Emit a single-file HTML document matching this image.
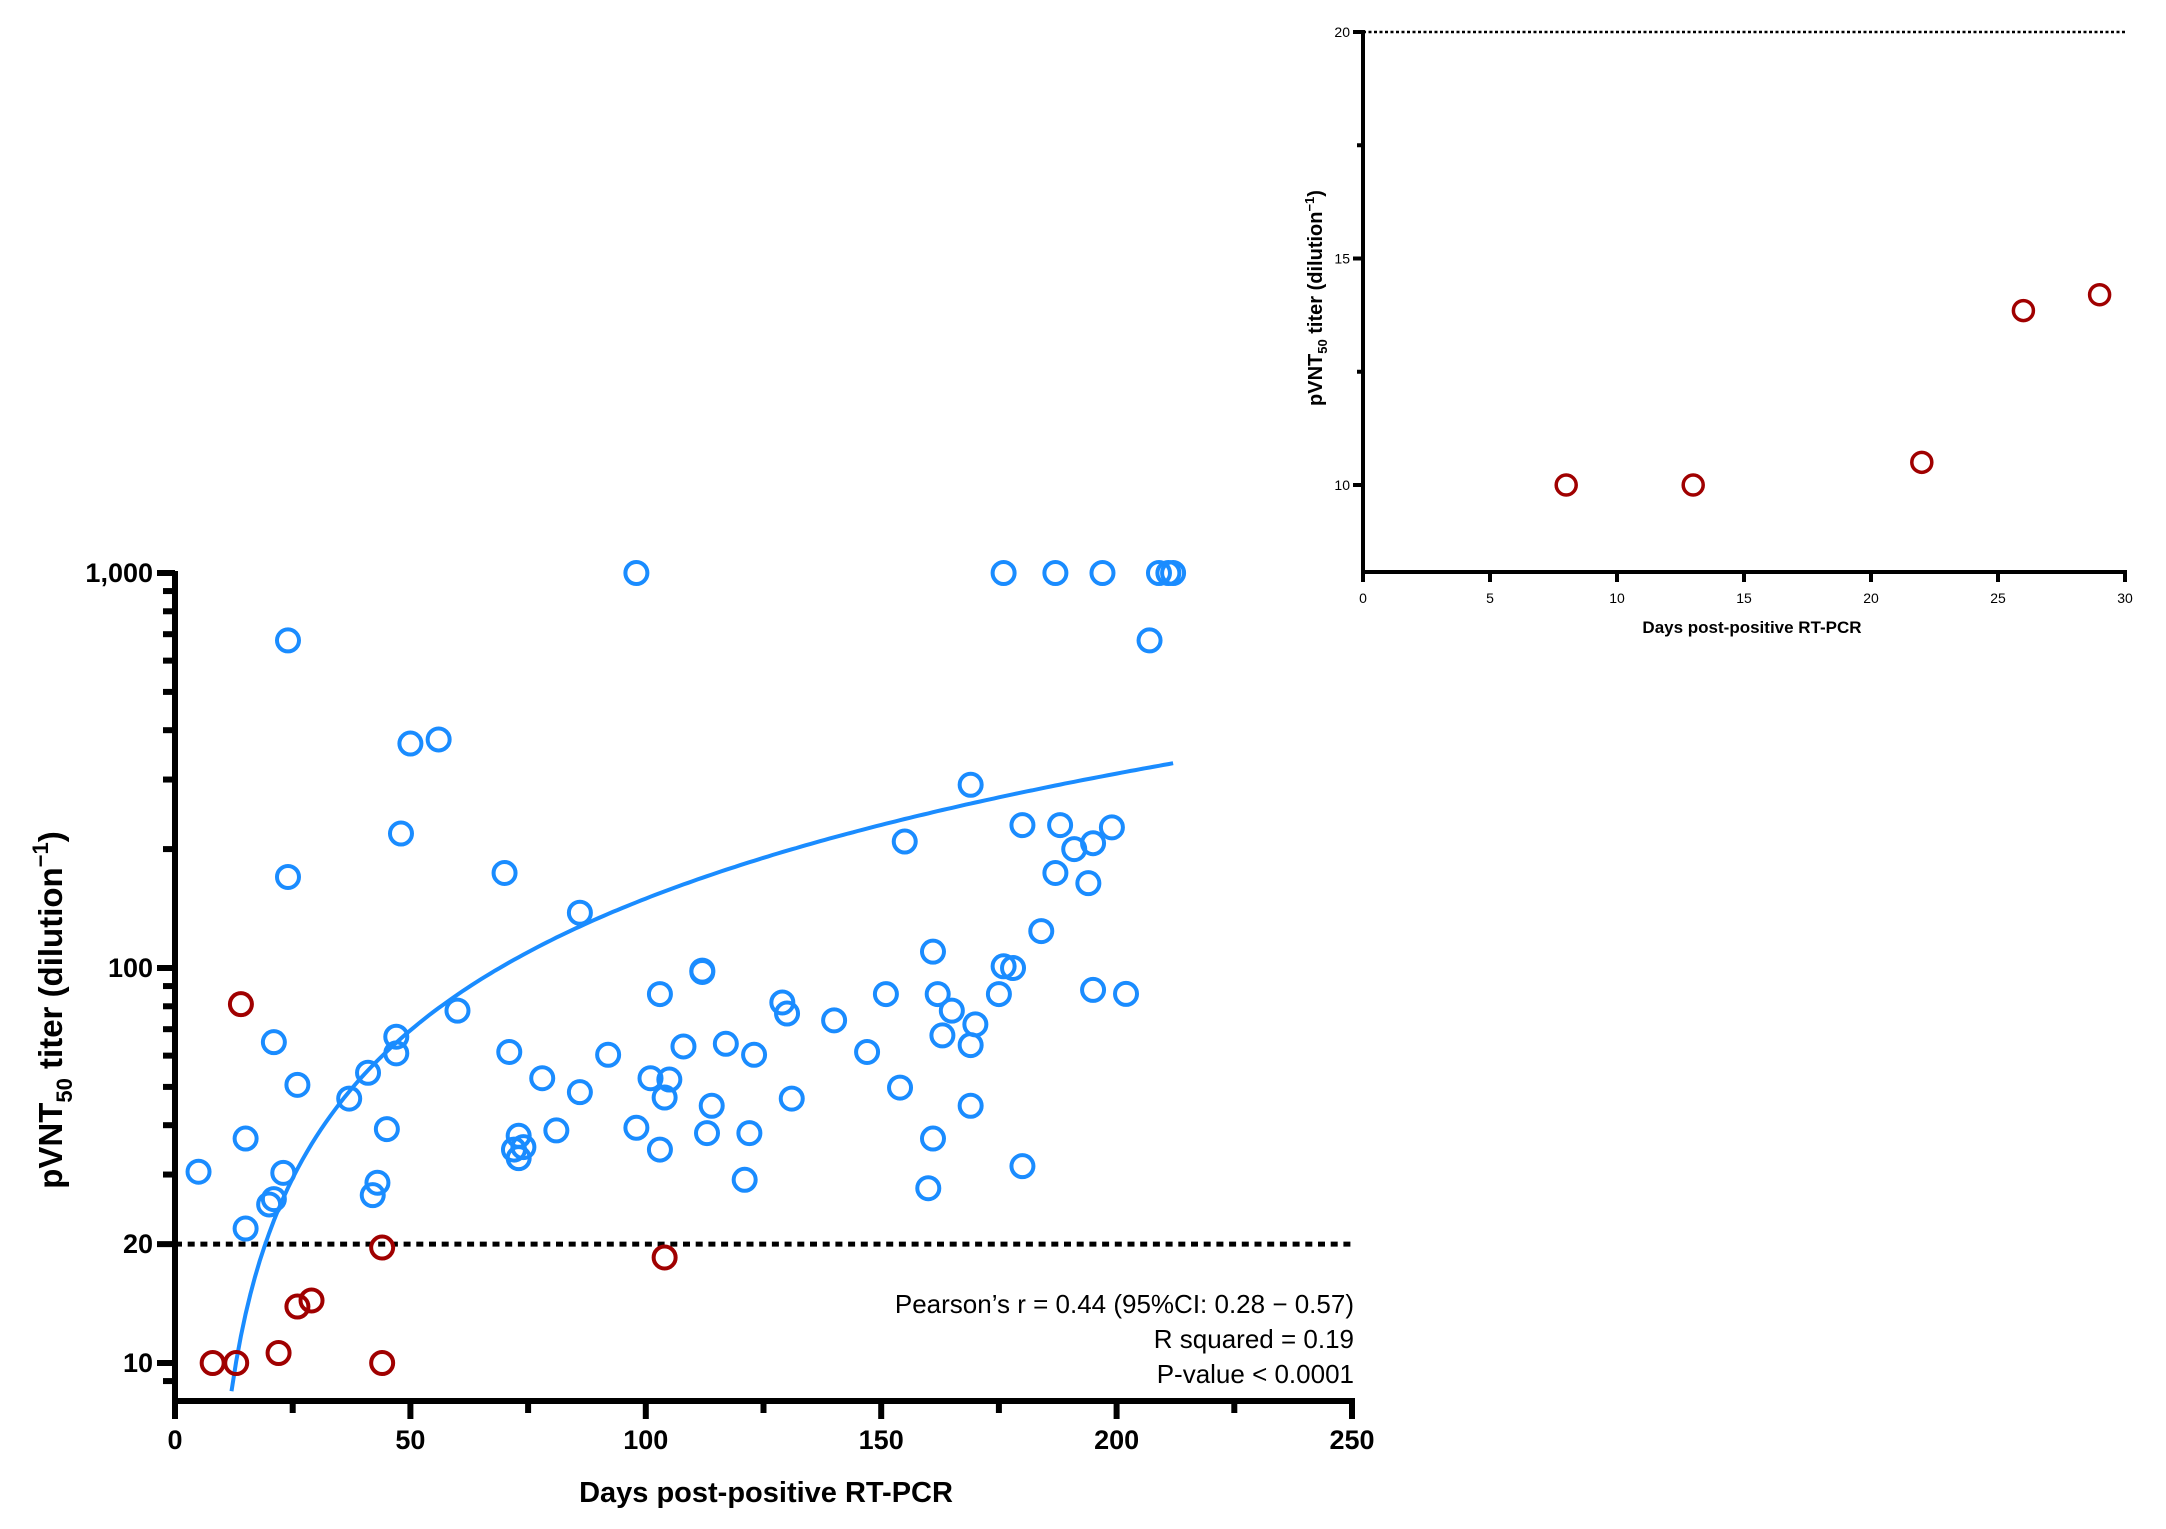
<!DOCTYPE html>
<html><head><meta charset="utf-8">
<style>
html,body{margin:0;padding:0;background:#fff;}
svg{display:block;font-family:"Liberation Sans",Arial,sans-serif;}
</style></head>
<body>
<svg id="chart" width="2166" height="1529" viewBox="0 0 2166 1529" xmlns="http://www.w3.org/2000/svg">
<g id="main"></g>
<g id="inset"></g>
</svg>
<script>
// ===== Main chart data =====
const blueDays = [5,15,15,20,21,21,23,24,24,26,37,41,42,43,45,47,47,48,50,56,60,70,71,72,73,73,74,78,81,86,86,92,98,98,101,103,103,104,105,108,112,112,113,114,117,121,122,123,129,130,131,140,147,151,154,155,160,161,161,162,163,165,169,169,169,170,175,176,176,178,180,180,184,187,187,188,191,194,195,195,197,199,202,207,209,211,212];
const blueTiters = [30.5,37,21.9,25.2,26,64.9,30.3,675,170,50.6,46.7,54.3,26.6,28.6,39.1,60.8,67,219,370,379,78,174,61.3,34.7,37.6,33,35.2,52.6,38.8,48.5,138,60.3,39.4,1000,52.6,85.9,34.7,47,52.2,63.3,97.7,98.5,38.2,44.8,64.3,29.1,38.2,60.3,81.8,76.7,46.7,73.7,61.3,85.9,49.8,209,27.7,37,110,85.9,67.5,78,291,63.8,44.8,72,85.9,101,1000,100,31.5,230,124,1000,174,230,200,164,88,207,1000,227,86,675,1000,1000,1000];
const redDays = [8,13,14,22,26,29,44,44,104];
const redTiters = [10,10,81,10.6,13.9,14.4,19.6,10,18.5];
const fitSlope = 1.607, fitIntercept = -10.8, fitStart = 12, fitEnd = 212;
const xTicks = [0,50,100,150,200,250];
const xMinorTicks = [25,75,125,175,225];
const yTickVals = [10,20,100,1000];
const yTickLabels = ["10","20","100","1,000"];
const yMinorTicks = [9,30,40,50,60,70,80,90,200,300,400,500,600,700,800,900];
const threshold = 20;
const statLines = ["Pearson\u2019s r = 0.44 (95%CI:  0.28 \u2212 0.57)","R squared = 0.19","P-value < 0.0001"];
// ===== Inset data =====
const insetDays = [8,13,22,26,29];
const insetTiters = [10,10,10.5,13.85,14.2];
const insetXTicks = [0,5,10,15,20,25,30];
const insetYTicks = [10,15,20];
const insetYMinor = [12.5,17.5];

const NS="http://www.w3.org/2000/svg";
function mk(parent,tag,attrs,text){const e=document.createElementNS(NS,tag);for(const k in attrs)e.setAttribute(k,attrs[k]);if(text!==undefined)e.textContent=text;parent.appendChild(e);return e;}

const X0=175,X1=1352,YB=1401;
const xs=d=>X0+(X1-X0)*d/250;
const ys=v=>1363-395*Math.log10(v/10);
const main=document.getElementById('main');
const BLUE="#1a8cff",RED="#a00000";

let e=mk(main,'line',{x1:X0,x2:X1,y1:ys(threshold),y2:ys(threshold),stroke:'#000','stroke-width':5,'stroke-dasharray':'7 5.7'});



let pts=[];for(let d=fitStart;d<=fitEnd;d+=1){const v=fitSlope*d+fitIntercept;if(v>0)pts.push(xs(d).toFixed(1)+','+ys(v).toFixed(1));}
e=mk(main,'polyline',{points:pts.join(' '),fill:'none',stroke:BLUE,'stroke-width':4});



blueDays.forEach((d,i)=>{const c=mk(main,'circle',{cx:xs(d),cy:ys(blueTiters[i]),r:11,fill:'none',stroke:BLUE,'stroke-width':4});

});
redDays.forEach((d,i)=>{const c=mk(main,'circle',{cx:xs(d),cy:ys(redTiters[i]),r:11,fill:'none',stroke:RED,'stroke-width':4});

});

e=mk(main,'line',{x1:X0,x2:X0,y1:ys(1000)-2,y2:YB+3,stroke:'#000','stroke-width':6});


e=mk(main,'line',{x1:X0-3,x2:X1+3,y1:YB,y2:YB,stroke:'#000','stroke-width':6});


xTicks.forEach(t=>{mk(main,'line',{x1:xs(t),x2:xs(t),y1:YB,y2:YB+18,stroke:'#000','stroke-width':6});
const l=mk(main,'text',{x:xs(t),y:YB+48,'text-anchor':'middle','font-size':27,'font-weight':'bold'},String(t));

});
xMinorTicks.forEach(t=>mk(main,'line',{x1:xs(t),x2:xs(t),y1:YB,y2:YB+12,stroke:'#000','stroke-width':6}));
yTickVals.forEach((v,i)=>{mk(main,'line',{x1:X0-18,x2:X0,y1:ys(v),y2:ys(v),stroke:'#000','stroke-width':6});
const l=mk(main,'text',{x:X0-22,y:ys(v)+9,'text-anchor':'end','font-size':27,'font-weight':'bold'},yTickLabels[i]);

});
yMinorTicks.forEach(v=>mk(main,'line',{x1:X0-12,x2:X0,y1:ys(v),y2:ys(v),stroke:'#000','stroke-width':6}));

e=mk(main,'text',{x:766,y:1502,'text-anchor':'middle','font-size':29,'font-weight':'bold'},'Days post-positive RT-PCR');


e=mk(main,'text',{x:0,y:0,transform:'translate(62,1010) rotate(-90)','text-anchor':'middle','font-size':33,'font-weight':'bold'});


e.innerHTML='pVNT<tspan font-size="22" dy="10">50</tspan><tspan dy="-10"> titer (dilution</tspan><tspan font-size="22" dy="-14">\u22121</tspan><tspan dy="14">)</tspan>';

statLines.forEach((s,i)=>{const t=mk(main,'text',{x:1354,y:1313+i*35,'text-anchor':'end','font-size':26},s);

});

// ===== Inset =====
const ins=document.getElementById('inset');
const IX0=1363,IX1=2125,IYB=572;
const ixs=d=>IX0+(IX1-IX0)*d/30;
const iys=v=>485-45.3*(v-10);
e=mk(ins,'line',{x1:IX0,x2:IX1,y1:iys(20),y2:iys(20),stroke:'#000','stroke-width':2.5,'stroke-dasharray':'3 2.5'});


insetDays.forEach((d,i)=>{const c=mk(ins,'circle',{cx:ixs(d),cy:iys(insetTiters[i]),r:10,fill:'none',stroke:RED,'stroke-width':3.5});

});
e=mk(ins,'line',{x1:IX0,x2:IX0,y1:iys(20)-2,y2:IYB+2,stroke:'#000','stroke-width':4});


e=mk(ins,'line',{x1:IX0-2,x2:IX1+2,y1:IYB,y2:IYB,stroke:'#000','stroke-width':4});


insetXTicks.forEach(t=>{mk(ins,'line',{x1:ixs(t),x2:ixs(t),y1:IYB,y2:IYB+10,stroke:'#000','stroke-width':4});
const l=mk(ins,'text',{x:ixs(t),y:IYB+31,'text-anchor':'middle','font-size':14},String(t));

});
insetYTicks.forEach(v=>{mk(ins,'line',{x1:IX0-10,x2:IX0,y1:iys(v),y2:iys(v),stroke:'#000','stroke-width':4});
const l=mk(ins,'text',{x:IX0-13,y:iys(v)+5,'text-anchor':'end','font-size':14},String(v));

});
insetYMinor.forEach(v=>mk(ins,'line',{x1:IX0-6,x2:IX0,y1:iys(v),y2:iys(v),stroke:'#000','stroke-width':4}));
e=mk(ins,'text',{x:1752,y:633,'text-anchor':'middle','font-size':17,'font-weight':'bold'},'Days post-positive RT-PCR');


e=mk(ins,'text',{x:0,y:0,transform:'translate(1322,298) rotate(-90)','text-anchor':'middle','font-size':20,'font-weight':'bold'});


e.innerHTML='pVNT<tspan font-size="13" dy="5">50</tspan><tspan dy="-5"> titer (dilution</tspan><tspan font-size="13" dy="-8">\u22121</tspan><tspan dy="8">)</tspan>';
</script>
</body></html>
